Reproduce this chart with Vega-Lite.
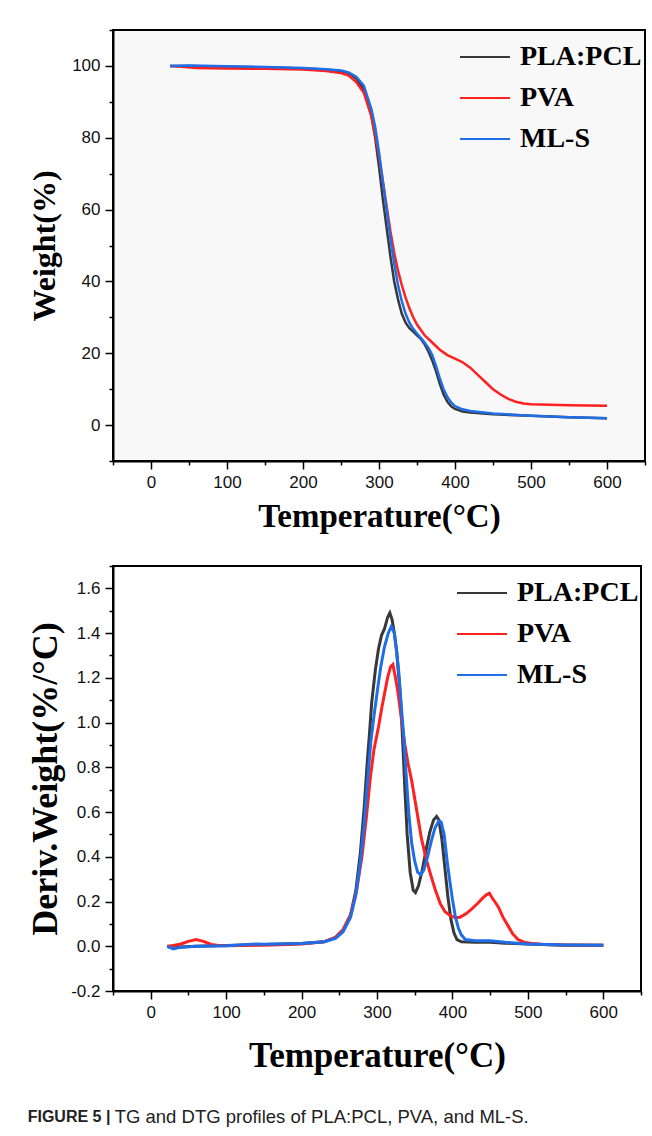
{
  "$schema": "https://vega.github.io/schema/vega-lite/v6.json",
  "background": "white",
  "padding": {"left": 26, "top": 28, "right": 6, "bottom": 12},
  "spacing": 30,
  "resolve": {"scale": {"color": "independent"}, "legend": {"color": "independent"}},
  "datasets": {
    "tg": [
      {"s":"PLA:PCL","T":25,"w":100},{"s":"PLA:PCL","T":50,"w":100},{"s":"PLA:PCL","T":100,"w":99.8},{"s":"PLA:PCL","T":150,"w":99.6},{"s":"PLA:PCL","T":200,"w":99.3},{"s":"PLA:PCL","T":230,"w":99},{"s":"PLA:PCL","T":250,"w":98.5},{"s":"PLA:PCL","T":260,"w":98},{"s":"PLA:PCL","T":270,"w":96.5},{"s":"PLA:PCL","T":280,"w":93.5},{"s":"PLA:PCL","T":290,"w":86},{"s":"PLA:PCL","T":295,"w":80},{"s":"PLA:PCL","T":300,"w":72},{"s":"PLA:PCL","T":305,"w":63},{"s":"PLA:PCL","T":310,"w":55},{"s":"PLA:PCL","T":315,"w":47},{"s":"PLA:PCL","T":320,"w":40},{"s":"PLA:PCL","T":325,"w":35},{"s":"PLA:PCL","T":330,"w":31},{"s":"PLA:PCL","T":335,"w":28.5},{"s":"PLA:PCL","T":340,"w":27},{"s":"PLA:PCL","T":345,"w":26},{"s":"PLA:PCL","T":350,"w":25},{"s":"PLA:PCL","T":355,"w":24},{"s":"PLA:PCL","T":360,"w":22.5},{"s":"PLA:PCL","T":365,"w":20.5},{"s":"PLA:PCL","T":370,"w":18},{"s":"PLA:PCL","T":375,"w":15},{"s":"PLA:PCL","T":380,"w":11.5},{"s":"PLA:PCL","T":385,"w":8.5},{"s":"PLA:PCL","T":390,"w":6.5},{"s":"PLA:PCL","T":395,"w":5.2},{"s":"PLA:PCL","T":400,"w":4.5},{"s":"PLA:PCL","T":410,"w":3.8},{"s":"PLA:PCL","T":420,"w":3.5},{"s":"PLA:PCL","T":450,"w":3},{"s":"PLA:PCL","T":500,"w":2.6},{"s":"PLA:PCL","T":550,"w":2.2},{"s":"PLA:PCL","T":600,"w":1.9},
      {"s":"PVA","T":25,"w":100},{"s":"PVA","T":40,"w":99.8},{"s":"PVA","T":60,"w":99.4},{"s":"PVA","T":100,"w":99.3},{"s":"PVA","T":150,"w":99.2},{"s":"PVA","T":200,"w":99},{"s":"PVA","T":230,"w":98.6},{"s":"PVA","T":250,"w":98},{"s":"PVA","T":260,"w":97.3},{"s":"PVA","T":270,"w":95.5},{"s":"PVA","T":280,"w":92.5},{"s":"PVA","T":290,"w":86},{"s":"PVA","T":295,"w":81},{"s":"PVA","T":300,"w":75},{"s":"PVA","T":305,"w":68},{"s":"PVA","T":310,"w":61},{"s":"PVA","T":315,"w":54},{"s":"PVA","T":320,"w":48},{"s":"PVA","T":325,"w":43},{"s":"PVA","T":330,"w":39},{"s":"PVA","T":335,"w":35.5},{"s":"PVA","T":340,"w":32.5},{"s":"PVA","T":345,"w":30},{"s":"PVA","T":350,"w":28},{"s":"PVA","T":360,"w":25},{"s":"PVA","T":370,"w":23},{"s":"PVA","T":380,"w":21},{"s":"PVA","T":390,"w":19.5},{"s":"PVA","T":400,"w":18.5},{"s":"PVA","T":410,"w":17.5},{"s":"PVA","T":420,"w":16},{"s":"PVA","T":430,"w":14},{"s":"PVA","T":440,"w":12},{"s":"PVA","T":450,"w":10},{"s":"PVA","T":460,"w":8.5},{"s":"PVA","T":470,"w":7.3},{"s":"PVA","T":480,"w":6.5},{"s":"PVA","T":490,"w":6},{"s":"PVA","T":500,"w":5.8},{"s":"PVA","T":550,"w":5.5},{"s":"PVA","T":600,"w":5.4},
      {"s":"ML-S","T":25,"w":100},{"s":"ML-S","T":50,"w":100.1},{"s":"ML-S","T":100,"w":99.9},{"s":"ML-S","T":150,"w":99.7},{"s":"ML-S","T":200,"w":99.4},{"s":"ML-S","T":230,"w":99.1},{"s":"ML-S","T":250,"w":98.7},{"s":"ML-S","T":260,"w":98.2},{"s":"ML-S","T":270,"w":97},{"s":"ML-S","T":280,"w":94.5},{"s":"ML-S","T":290,"w":88},{"s":"ML-S","T":295,"w":83},{"s":"ML-S","T":300,"w":76},{"s":"ML-S","T":305,"w":68},{"s":"ML-S","T":310,"w":60},{"s":"ML-S","T":315,"w":52},{"s":"ML-S","T":320,"w":45},{"s":"ML-S","T":325,"w":39},{"s":"ML-S","T":330,"w":34.5},{"s":"ML-S","T":335,"w":31},{"s":"ML-S","T":340,"w":28.5},{"s":"ML-S","T":345,"w":26.8},{"s":"ML-S","T":350,"w":25.5},{"s":"ML-S","T":355,"w":24.3},{"s":"ML-S","T":360,"w":23},{"s":"ML-S","T":365,"w":21.5},{"s":"ML-S","T":370,"w":19.5},{"s":"ML-S","T":375,"w":16.5},{"s":"ML-S","T":380,"w":13},{"s":"ML-S","T":385,"w":10},{"s":"ML-S","T":390,"w":7.8},{"s":"ML-S","T":395,"w":6.3},{"s":"ML-S","T":400,"w":5.3},{"s":"ML-S","T":410,"w":4.4},{"s":"ML-S","T":420,"w":3.9},{"s":"ML-S","T":450,"w":3.2},{"s":"ML-S","T":500,"w":2.6},{"s":"ML-S","T":550,"w":2.2},{"s":"ML-S","T":600,"w":1.9}
    ],
    "dtg": [
      {"s":"PLA:PCL","T":22,"d":0.0},{"s":"PLA:PCL","T":30,"d":-0.008},{"s":"PLA:PCL","T":40,"d":-0.003},{"s":"PLA:PCL","T":60,"d":0.0},{"s":"PLA:PCL","T":100,"d":0.003},{"s":"PLA:PCL","T":150,"d":0.008},{"s":"PLA:PCL","T":200,"d":0.012},{"s":"PLA:PCL","T":230,"d":0.02},{"s":"PLA:PCL","T":245,"d":0.04},{"s":"PLA:PCL","T":255,"d":0.07},{"s":"PLA:PCL","T":265,"d":0.14},{"s":"PLA:PCL","T":272,"d":0.25},{"s":"PLA:PCL","T":278,"d":0.42},{"s":"PLA:PCL","T":283,"d":0.62},{"s":"PLA:PCL","T":287,"d":0.82},{"s":"PLA:PCL","T":290,"d":0.95},{"s":"PLA:PCL","T":293,"d":1.09},{"s":"PLA:PCL","T":298,"d":1.24},{"s":"PLA:PCL","T":302,"d":1.33},{"s":"PLA:PCL","T":306,"d":1.39},{"s":"PLA:PCL","T":310,"d":1.42},{"s":"PLA:PCL","T":314,"d":1.47},{"s":"PLA:PCL","T":317,"d":1.49},{"s":"PLA:PCL","T":320,"d":1.46},{"s":"PLA:PCL","T":323,"d":1.4},{"s":"PLA:PCL","T":326,"d":1.32},{"s":"PLA:PCL","T":329,"d":1.2},{"s":"PLA:PCL","T":331,"d":1.12},{"s":"PLA:PCL","T":334,"d":0.92},{"s":"PLA:PCL","T":337,"d":0.7},{"s":"PLA:PCL","T":340,"d":0.5},{"s":"PLA:PCL","T":344,"d":0.33},{"s":"PLA:PCL","T":348,"d":0.25},{"s":"PLA:PCL","T":351,"d":0.24},{"s":"PLA:PCL","T":355,"d":0.27},{"s":"PLA:PCL","T":360,"d":0.34},{"s":"PLA:PCL","T":365,"d":0.43},{"s":"PLA:PCL","T":370,"d":0.51},{"s":"PLA:PCL","T":375,"d":0.565},{"s":"PLA:PCL","T":379,"d":0.58},{"s":"PLA:PCL","T":382,"d":0.565},{"s":"PLA:PCL","T":386,"d":0.48},{"s":"PLA:PCL","T":390,"d":0.35},{"s":"PLA:PCL","T":394,"d":0.22},{"s":"PLA:PCL","T":398,"d":0.12},{"s":"PLA:PCL","T":402,"d":0.06},{"s":"PLA:PCL","T":406,"d":0.03},{"s":"PLA:PCL","T":412,"d":0.02},{"s":"PLA:PCL","T":430,"d":0.018},{"s":"PLA:PCL","T":450,"d":0.018},{"s":"PLA:PCL","T":470,"d":0.014},{"s":"PLA:PCL","T":500,"d":0.01},{"s":"PLA:PCL","T":550,"d":0.005},{"s":"PLA:PCL","T":600,"d":0.004},
      {"s":"PVA","T":22,"d":0.0},{"s":"PVA","T":30,"d":0.003},{"s":"PVA","T":40,"d":0.01},{"s":"PVA","T":50,"d":0.022},{"s":"PVA","T":60,"d":0.03},{"s":"PVA","T":70,"d":0.022},{"s":"PVA","T":80,"d":0.008},{"s":"PVA","T":90,"d":0.003},{"s":"PVA","T":100,"d":0.002},{"s":"PVA","T":150,"d":0.005},{"s":"PVA","T":200,"d":0.01},{"s":"PVA","T":230,"d":0.02},{"s":"PVA","T":245,"d":0.04},{"s":"PVA","T":255,"d":0.075},{"s":"PVA","T":265,"d":0.14},{"s":"PVA","T":273,"d":0.25},{"s":"PVA","T":280,"d":0.4},{"s":"PVA","T":286,"d":0.58},{"s":"PVA","T":291,"d":0.75},{"s":"PVA","T":296,"d":0.88},{"s":"PVA","T":302,"d":0.98},{"s":"PVA","T":306,"d":1.06},{"s":"PVA","T":310,"d":1.13},{"s":"PVA","T":314,"d":1.2},{"s":"PVA","T":318,"d":1.25},{"s":"PVA","T":321,"d":1.26},{"s":"PVA","T":324,"d":1.21},{"s":"PVA","T":328,"d":1.13},{"s":"PVA","T":333,"d":1.0},{"s":"PVA","T":337,"d":0.9},{"s":"PVA","T":341,"d":0.82},{"s":"PVA","T":346,"d":0.74},{"s":"PVA","T":352,"d":0.62},{"s":"PVA","T":359,"d":0.48},{"s":"PVA","T":366,"d":0.38},{"s":"PVA","T":372,"d":0.31},{"s":"PVA","T":377,"d":0.255},{"s":"PVA","T":384,"d":0.19},{"s":"PVA","T":390,"d":0.155},{"s":"PVA","T":398,"d":0.135},{"s":"PVA","T":405,"d":0.128},{"s":"PVA","T":410,"d":0.13},{"s":"PVA","T":418,"d":0.145},{"s":"PVA","T":425,"d":0.165},{"s":"PVA","T":433,"d":0.19},{"s":"PVA","T":440,"d":0.215},{"s":"PVA","T":445,"d":0.23},{"s":"PVA","T":449,"d":0.237},{"s":"PVA","T":452,"d":0.22},{"s":"PVA","T":456,"d":0.2},{"s":"PVA","T":461,"d":0.175},{"s":"PVA","T":467,"d":0.13},{"s":"PVA","T":474,"d":0.09},{"s":"PVA","T":480,"d":0.055},{"s":"PVA","T":487,"d":0.03},{"s":"PVA","T":495,"d":0.018},{"s":"PVA","T":505,"d":0.012},{"s":"PVA","T":520,"d":0.008},{"s":"PVA","T":550,"d":0.006},{"s":"PVA","T":600,"d":0.004},
      {"s":"ML-S","T":22,"d":0.0},{"s":"ML-S","T":30,"d":-0.012},{"s":"ML-S","T":40,"d":-0.004},{"s":"ML-S","T":60,"d":0.0},{"s":"ML-S","T":100,"d":0.002},{"s":"ML-S","T":140,"d":0.01},{"s":"ML-S","T":150,"d":0.009},{"s":"ML-S","T":200,"d":0.012},{"s":"ML-S","T":230,"d":0.02},{"s":"ML-S","T":245,"d":0.035},{"s":"ML-S","T":255,"d":0.065},{"s":"ML-S","T":265,"d":0.13},{"s":"ML-S","T":272,"d":0.23},{"s":"ML-S","T":278,"d":0.38},{"s":"ML-S","T":283,"d":0.55},{"s":"ML-S","T":288,"d":0.76},{"s":"ML-S","T":292,"d":0.92},{"s":"ML-S","T":296,"d":1.03},{"s":"ML-S","T":300,"d":1.13},{"s":"ML-S","T":305,"d":1.25},{"s":"ML-S","T":310,"d":1.34},{"s":"ML-S","T":315,"d":1.4},{"s":"ML-S","T":319,"d":1.43},{"s":"ML-S","T":323,"d":1.4},{"s":"ML-S","T":326,"d":1.32},{"s":"ML-S","T":329,"d":1.22},{"s":"ML-S","T":332,"d":1.08},{"s":"ML-S","T":335,"d":0.96},{"s":"ML-S","T":338,"d":0.8},{"s":"ML-S","T":342,"d":0.6},{"s":"ML-S","T":346,"d":0.46},{"s":"ML-S","T":350,"d":0.38},{"s":"ML-S","T":354,"d":0.33},{"s":"ML-S","T":358,"d":0.32},{"s":"ML-S","T":362,"d":0.34},{"s":"ML-S","T":367,"d":0.4},{"s":"ML-S","T":372,"d":0.47},{"s":"ML-S","T":377,"d":0.53},{"s":"ML-S","T":382,"d":0.56},{"s":"ML-S","T":385,"d":0.555},{"s":"ML-S","T":389,"d":0.5},{"s":"ML-S","T":393,"d":0.38},{"s":"ML-S","T":397,"d":0.28},{"s":"ML-S","T":400,"d":0.21},{"s":"ML-S","T":404,"d":0.13},{"s":"ML-S","T":408,"d":0.08},{"s":"ML-S","T":412,"d":0.05},{"s":"ML-S","T":417,"d":0.03},{"s":"ML-S","T":430,"d":0.025},{"s":"ML-S","T":450,"d":0.025},{"s":"ML-S","T":470,"d":0.018},{"s":"ML-S","T":500,"d":0.01},{"s":"ML-S","T":550,"d":0.006},{"s":"ML-S","T":600,"d":0.004}
    ]
  },
  "config": {
    "view": {"stroke": "black", "strokeWidth": 2},
    "axis": {
      "grid": false,
      "domainColor": "black",
      "domainWidth": 2,
      "tickColor": "black",
      "tickWidth": 1.5,
      "labelFont": "Liberation Sans",
      "labelFontSize": 17,
      "labelColor": "#111111",
      "labelPadding": 5,
      "titleFont": "Liberation Serif",
      "titleFontWeight": "bold",
      "titleColor": "black"
    },
    "legend": {
      "orient": "none",
      "title": null,
      "symbolType": "stroke",
      "symbolSize": 2500,
      "symbolStrokeWidth": 2,
      "labelFont": "Liberation Serif",
      "labelFontWeight": "bold",
      "labelFontSize": 28,
      "labelColor": "black",
      "labelOffset": 9,
      "rowPadding": 1,
      "padding": 0
    }
  },
  "title": {
    "text": "TG and DTG profiles of PLA:PCL, PVA, and ML-S.",
    "orient": "bottom",
    "anchor": "start",
    "font": "Liberation Sans",
    "fontSize": 18.5,
    "fontWeight": "normal",
    "color": "#222222",
    "dx": 88,
    "dy": -18,
    "offset": 0
  },
  "vconcat": [
    {
      "width": 532,
      "height": 431,
      "view": {"fill": "#f8f8f8"},
      "layer": [
        {"data": {"name": "tg"}, "transform": [{"filter": "datum.s === 'PLA:PCL'"}], "mark": {"type": "line", "strokeWidth": 2.5}},
        {"data": {"name": "tg"}, "transform": [{"filter": "datum.s === 'PVA'"}], "mark": {"type": "line", "strokeWidth": 2.5}},
        {"data": {"name": "tg"}, "transform": [{"filter": "datum.s === 'ML-S'"}], "mark": {"type": "line", "strokeWidth": 2.5}}
      ],
      "encoding": {
        "x": {"field": "T", "type": "quantitative", "scale": {"domain": [-50, 650], "nice": false},
          "axis": {"title": "Temperature(°C)", "titleFontSize": 33, "titlePadding": 10,
            "values": [-50,0,50,100,150,200,250,300,350,400,450,500,550,600,650],
            "labelExpr": "datum.value % 100 === 0 && datum.value >= 0 && datum.value <= 600 ? datum.label : ''",
            "tickSize": {"condition": {"test": "datum.value % 100 !== 0", "value": 4}, "value": 8}}},
        "y": {"field": "w", "type": "quantitative", "scale": {"domain": [-10, 110], "nice": false},
          "axis": {"title": "Weight(%)", "titleFontSize": 32, "titlePadding": 10,
            "values": [-10,0,10,20,30,40,50,60,70,80,90,100,110],
            "labelExpr": "datum.value % 20 === 0 ? datum.label : ''",
            "tickSize": {"condition": {"test": "datum.value % 20 !== 0", "value": 4}, "value": 8}}},
        "color": {"field": "s", "type": "nominal",
          "scale": {"domain": ["PLA:PCL", "PVA", "ML-S"], "range": ["#383838", "#ff2020", "#1f6ee8"]},
          "legend": {"legendX": 346, "legendY": 1,
            "encode": {"symbols": {"update": {"stroke": {"signal": "datum.value === 'PLA:PCL' ? '#666666' : datum.value === 'PVA' ? '#ff0000' : '#0000ee'"}}}}}}
      }
    },
    {
      "width": 528,
      "height": 425,
      "title": {"text": "FIGURE 5 |", "orient": "bottom", "anchor": "start", "frame": "bounds", "font": "Liberation Sans", "fontSize": 16, "fontWeight": "bold", "color": "#222222", "offset": 36},
      "layer": [
        {"data": {"name": "dtg"}, "transform": [{"filter": "datum.s === 'PLA:PCL'"}], "mark": {"type": "line", "strokeWidth": 3}},
        {"data": {"name": "dtg"}, "transform": [{"filter": "datum.s === 'PVA'"}], "mark": {"type": "line", "strokeWidth": 3}},
        {"data": {"name": "dtg"}, "transform": [{"filter": "datum.s === 'ML-S'"}], "mark": {"type": "line", "strokeWidth": 3}}
      ],
      "encoding": {
        "x": {"field": "T", "type": "quantitative", "scale": {"domain": [-50, 650], "nice": false},
          "axis": {"title": "Temperature(°C)", "titleFontSize": 35, "titlePadding": 18,
            "values": [-50,0,50,100,150,200,250,300,350,400,450,500,550,600,650],
            "labelExpr": "datum.value % 100 === 0 && datum.value >= 0 && datum.value <= 600 ? datum.label : ''",
            "tickSize": {"condition": {"test": "datum.value % 100 !== 0", "value": 4}, "value": 8}}},
        "y": {"field": "d", "type": "quantitative", "scale": {"domain": [-0.2, 1.7], "nice": false},
          "axis": {"title": "Deriv.Weight(%/°C)", "titleFontSize": 36, "titlePadding": 6,
            "values": [-0.2,-0.1,0,0.1,0.2,0.3,0.4,0.5,0.6,0.7,0.8,0.9,1.0,1.1,1.2,1.3,1.4,1.5,1.6,1.7],
            "labelExpr": "abs(round(datum.value * 10)) % 2 === 0 ? replace(format(datum.value, '.1f'), '\u2212', '-') : ''",
            "tickSize": {"condition": {"test": "abs(round(datum.value * 10)) % 2 !== 0", "value": 4}, "value": 8}}},
        "color": {"field": "s", "type": "nominal",
          "scale": {"domain": ["PLA:PCL", "PVA", "ML-S"], "range": ["#383838", "#ff2020", "#1f6ee8"]},
          "legend": {"legendX": 343, "legendY": 1,
            "encode": {"symbols": {"update": {"stroke": {"signal": "datum.value === 'PLA:PCL' ? '#666666' : datum.value === 'PVA' ? '#ff0000' : '#0000ee'"}}}}}}
      }
    }
  ]
}
